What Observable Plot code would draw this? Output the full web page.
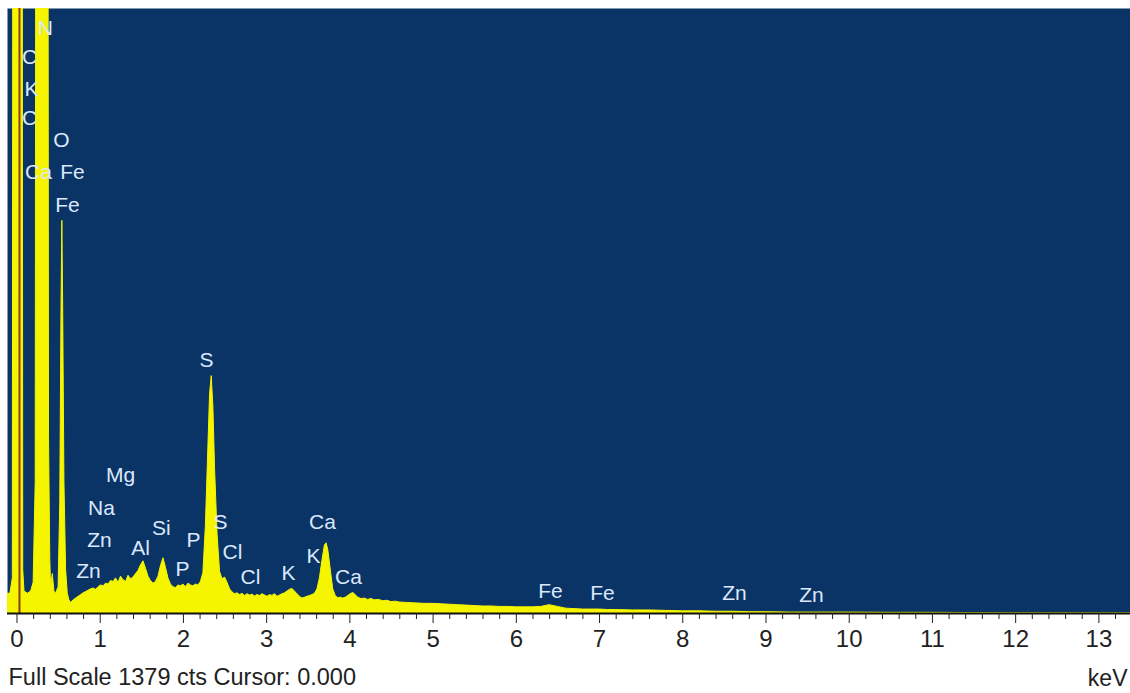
<!DOCTYPE html>
<html>
<head>
<meta charset="utf-8">
<script src="https://cdn.jsdelivr.net/npm/d3@7"></script>
<script src="https://cdn.jsdelivr.net/npm/@observablehq/plot@0.6"></script>
<style>
  html, body { margin: 0; padding: 0; background: #ffffff; }
  #chart svg { display: block; }
</style>
</head>
<body>
<div id="chart"></div>
<script>
// Spectrum (energy in keV, counts)
const energyKeV = [
  -0.114, -0.08, -0.05, -0.04, 0.065, 0.075, 0.09, 0.13, 0.17, 0.20, 0.225, 0.235, 0.30, 0.375, 0.385,
  0.40, 0.41, 0.43, 0.45, 0.47, 0.49, 0.50, 0.52, 0.535, 0.545, 0.555, 0.57, 0.59, 0.61, 0.63,
  0.65, 0.68, 0.71, 0.74, 0.77, 0.80, 0.83, 0.86, 0.89, 0.92, 0.95, 0.98, 1.01, 1.04, 1.07, 1.10,
  1.13, 1.16, 1.19, 1.22, 1.25, 1.28, 1.31, 1.34, 1.37, 1.40, 1.43, 1.46, 1.49, 1.52, 1.55, 1.58,
  1.61, 1.64, 1.67, 1.70, 1.73, 1.76, 1.79, 1.82, 1.85, 1.88, 1.91, 1.94, 1.97, 2.00, 2.03, 2.06,
  2.09, 2.12, 2.15, 2.18, 2.21, 2.24, 2.27, 2.30, 2.32, 2.34, 2.36, 2.38, 2.41, 2.44, 2.47, 2.50,
  2.53, 2.56, 2.59, 2.62, 2.65, 2.68, 2.71, 2.74, 2.77, 2.80, 2.83, 2.86, 2.89, 2.92, 2.95, 2.98,
  3.01, 3.04, 3.07, 3.10, 3.13, 3.16, 3.19, 3.22, 3.25, 3.28, 3.31, 3.34, 3.37, 3.40, 3.43, 3.46,
  3.49, 3.52, 3.55, 3.58, 3.61, 3.64, 3.67, 3.70, 3.72, 3.74, 3.77, 3.80, 3.83, 3.86, 3.89, 3.92,
  3.95, 3.98, 4.01, 4.04, 4.07, 4.10, 4.14, 4.18, 4.22, 4.26, 4.30, 4.35, 4.40, 4.45, 4.50, 4.55,
  4.60, 4.70, 4.80, 4.90, 5.0, 5.1, 5.2, 5.3, 5.4, 5.5, 5.6, 5.7, 5.8, 5.9, 6.0, 6.1, 6.2, 6.3,
  6.4, 6.5, 6.6, 6.7, 6.8, 6.9, 7.0, 7.1, 7.2, 7.4, 7.6, 7.8, 8.0, 8.2, 8.4, 8.6, 8.8, 9.0, 9.3,
  9.6, 10.0, 10.5, 11.0, 11.5, 12.0, 12.5, 13.38
];
const counts = [
  45, 45, 80, 3000, 3000, 100, 50, 45, 50, 70, 300, 2500, 4000, 2500, 400,
  125, 60, 90, 50, 45, 55, 60, 250, 700, 895, 700, 300, 100, 45, 30,
  24, 30, 34, 38, 42, 46, 49, 52, 55, 57, 54, 60, 64, 62, 68, 66,
  74, 72, 80, 70, 84, 76, 72, 86, 78, 82, 90, 97, 110, 119, 102, 84,
  74, 68, 72, 84, 108, 126, 104, 80, 66, 60, 58, 64, 62, 66, 60, 68,
  64, 62, 66, 64, 72, 92, 200, 380, 500, 541, 470, 330, 180, 95, 78, 82,
  70, 55, 48, 44, 46, 42, 45, 40, 44, 41, 43, 39, 42, 40, 44, 41,
  38, 42, 40, 44, 38, 41, 44, 46, 50, 54, 56, 50, 44, 38, 34, 36,
  38, 40, 42, 45, 55, 80, 120, 155, 160, 145, 100, 55, 40, 35, 36, 34,
  36, 40, 44, 47, 42, 36, 33, 34, 31, 33, 30, 31, 28, 29, 26, 27,
  25, 24, 23, 22, 22, 21, 20, 19, 18, 17, 16, 16, 15, 15, 14, 14, 14, 15,
  19, 15, 11, 10, 9, 9, 9, 8, 8, 7, 7, 6, 5, 5, 4, 4, 3, 3, 2,
  2, 2, 1.5, 1.5, 1, 0.5, 0.3, 0.2
];

// Element labels (name, energy keV, label height in counts)
const labelNames = ["N", "C", "K", "C", "O", "Ca", "Fe", "Fe", "S", "Mg", "Na", "Zn", "Zn", "Al", "Si",
  "P", "P", "S", "Cl", "Cl", "K", "K", "Ca", "Ca", "Fe", "Fe", "Zn", "Zn"];
const labelKeV = [0.342, 0.150, 0.174, 0.150, 0.535, 0.258, 0.667, 0.607, 2.277, 1.244, 1.015, 0.991, 0.859, 1.484, 1.736,
  2.121, 1.989, 2.445, 2.590, 2.806, 3.262, 3.563, 3.671, 3.984, 6.411, 7.036, 8.622, 9.547];
const labelCounts = [1333, 1267, 1196, 1128, 1078, 1005, 1005, 930, 577, 315, 239, 166, 96, 148, 194,
  166, 100, 207, 139, 82, 91, 130, 207, 82, 50, 46, 46, 41];

const majorTicks = d3.range(0, 14);
const minorTicks = d3.range(0, 67).map(i => i * 0.2).filter(v => Math.abs(v - Math.round(v)) > 1e-6 && v <= 13.38);
const cursorKeV = [0.03];
const fullScale = 1379;

const spectrum = energyKeV.map((e, i) => ({e, c: counts[i]}));
const labels = labelNames.map((n, i) => ({n, e: labelKeV[i], c: labelCounts[i]}));

const chart = Plot.plot({
  width: 1130,
  height: 693,
  marginTop: 8,
  marginBottom: 80,
  marginLeft: 7,
  marginRight: 0,
  style: {fontFamily: "'Liberation Sans', Arial, sans-serif", background: "#ffffff"},
  x: {domain: [-0.114, 13.38], axis: null},
  y: {domain: [0, fullScale], axis: null},
  marks: [
    Plot.frame({fill: "#0a3466", stroke: "none"}),
    Plot.areaY(spectrum, {x: "e", y: "c", fill: "#f6f500", stroke: "#f6f500", strokeWidth: 1, curve: "linear", clip: true}),
    Plot.ruleX(cursorKeV, {stroke: "#8a3b12", strokeWidth: 2}),
    Plot.text(labels, {x: "e", y: "c", text: "n", fill: "#dce8fb", fontSize: 21, textAnchor: "middle"}),
    Plot.ruleY([0], {stroke: "#111", strokeWidth: 2}),
    Plot.axisX({ticks: minorTicks, tickSize: 6, tickFormat: () => "", stroke: "#222", label: null}),
    Plot.axisX({ticks: majorTicks, tickSize: 10, tickPadding: 6, fontSize: 24, fill: "#222", stroke: "#222", tickFormat: d3.format("d"), label: null}),
    Plot.text(["Full Scale 1379 cts Cursor: 0.000"], {frameAnchor: "bottom-left", dx: 1, dy: 71, textAnchor: "start", fontSize: 23.5, fill: "#222"}),
    Plot.text(["keV"], {frameAnchor: "bottom-right", dx: -3, dy: 72, textAnchor: "end", fontSize: 23, fill: "#222"})
  ]
});
document.getElementById("chart").appendChild(chart);
</script>
</body>
</html>
